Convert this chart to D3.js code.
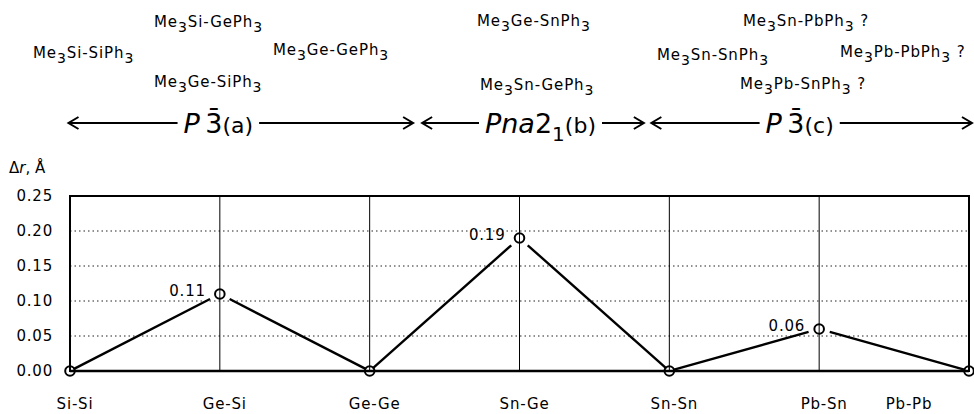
<!DOCTYPE html>
<html>
<head>
<meta charset="utf-8">
<script src="https://cdn.jsdelivr.net/npm/d3@7"></script>
<style>
  body { margin: 0; background: #fff; }
  svg { display: block; }
  text { font-family: "DejaVu Sans", sans-serif; fill: #000; }
</style>
</head>
<body>
<svg id="chart" width="974" height="414"></svg>
<script>
// bond type (Me3X-YPh3 -> X-Y) and the measured difference in bond length
const bonds = ["Si-Si", "Ge-Si", "Ge-Ge", "Sn-Ge", "Sn-Sn", "Pb-Sn", "Pb-Pb"];
const deltaR = [0, 0.11, 0, 0.19, 0, 0.06, 0];
const valueLabels = ["", "0.11", "", "0.19", "", "0.06", ""];
const yTicks = [0, 0.05, 0.10, 0.15, 0.20, 0.25];

// compounds written above the chart (digits become subscripts)
const compounds = [
  "Me3Si-SiPh3", "Me3Si-GePh3", "Me3Ge-GePh3", "Me3Ge-SiPh3",
  "Me3Ge-SnPh3", "Me3Sn-GePh3",
  "Me3Sn-PbPh3 ?", "Me3Sn-SnPh3", "Me3Pb-PbPh3 ?", "Me3Pb-SnPh3 ?"
];
// space groups, each spanning a range of the bond axis (in category units)
const spaceGroups = [
  [{t: "P", it: true}, {t: "\u20093\u0304"}, {t: "(a)", sm: true}],
  [{t: "Pna", it: true}, {t: "2"}, {t: "1", sub: true}, {t: "(b)", sm: true}],
  [{t: "P", it: true}, {t: "\u20093\u0304"}, {t: "(c)", sm: true}]
];
const groupSpan = [[-0.01, 2.29, 0.99], [2.35, 3.83, 3.14], [3.88, 6.02, 4.87]];

// layout for the compound names: [left x, baseline]
const compoundAt = [
  [33, 63], [154, 32], [273, 60], [154, 92],
  [477, 31], [480, 95],
  [743, 31], [657, 65], [840, 62], [740, 94]
];

const svg = d3.select("#chart");
const plotL = 70, plotR = 969, plotT = 196, plotB = 371;

const x = d3.scalePoint().domain(bonds).range([plotL, plotR]);
const xi = d3.scaleLinear().domain([0, bonds.length - 1]).range([plotL, plotR]);
const y = d3.scaleLinear().domain([0, 0.25]).range([plotB, plotT]);

// compound names
svg.append("g")
    .attr("font-size", 15)
    .attr("letter-spacing", 0.9)
  .selectAll("text")
  .data(compounds)
  .join("text")
    .attr("x", (d, i) => compoundAt[i][0])
    .attr("y", (d, i) => compoundAt[i][1])
    .each(function(d) {
      const t = d3.select(this);
      d.split(/(\d)/).filter(s => s.length).forEach(s => {
        if (/\d/.test(s)) {
          t.append("tspan").attr("font-size", 14).attr("dy", 5).text(s);
        } else {
          t.append("tspan").attr("dy", t.selectAll("tspan").size() ? -5 : 0).text(s);
        }
      });
    });

// space group arrows
const arrowY = 123;
const arrows = svg.append("g")
    .attr("stroke", "#000")
    .attr("stroke-width", 2)
    .attr("fill", "none");

spaceGroups.forEach((parts, i) => {
  const [a, b, c] = groupSpan[i];
  const t = svg.append("text")
      .attr("x", xi(c))
      .attr("y", 133)
      .attr("text-anchor", "middle");
  parts.forEach((p, k) => {
    const s = t.append("tspan").text(p.t);
    if (p.it) s.attr("font-style", "italic").attr("font-size", 27);
    else if (p.sm) s.attr("font-size", 22);
    else s.attr("font-size", 27);
    if (p.sub) s.attr("font-size", 20).attr("dy", 8);
    if (k > 0 && parts[k - 1].sub) s.attr("dy", -8);
  });
  const bb = t.node().getBBox();
  const x0 = xi(a), x1 = xi(b);
  const gl = bb.x - 6, gr = bb.x + bb.width + 6;
  arrows.append("path").attr("d", `M${x0},${arrowY}H${gl}M${x0 + 10},${arrowY - 6}L${x0},${arrowY}L${x0 + 10},${arrowY + 6}`);
  arrows.append("path").attr("d", `M${gr},${arrowY}H${x1}M${x1 - 10},${arrowY - 6}L${x1},${arrowY}L${x1 - 10},${arrowY + 6}`);
});

// y axis title
svg.append("text")
    .attr("x", 9)
    .attr("y", 173)
    .attr("font-size", 15)
    .call(t => {
      t.append("tspan").text("\u0394");
      t.append("tspan").attr("font-style", "italic").text("r");
      t.append("tspan").text(", \u00c5");
    });

// dotted gridlines
svg.append("g")
    .attr("stroke", "#222")
    .attr("stroke-width", 1)
    .attr("stroke-dasharray", "1.5,3")
  .selectAll("line")
  .data(yTicks.filter(v => v > 0 && v < 0.25))
  .join("line")
    .attr("x1", plotL).attr("x2", plotR)
    .attr("y1", d => y(d)).attr("y2", d => y(d));

// vertical lines at each bond
svg.append("g")
    .attr("stroke", "#000")
    .attr("stroke-width", 1)
  .selectAll("line")
  .data(bonds.slice(1, -1))
  .join("line")
    .attr("x1", d => x(d)).attr("x2", d => x(d))
    .attr("y1", plotT).attr("y2", plotB);

// frame
svg.append("rect")
    .attr("x", plotL).attr("y", plotT)
    .attr("width", plotR - plotL).attr("height", plotB - plotT)
    .attr("fill", "none")
    .attr("stroke", "#000")
    .attr("stroke-width", 2);
svg.append("line")
    .attr("x1", plotL).attr("x2", plotR)
    .attr("y1", plotB).attr("y2", plotB)
    .attr("stroke", "#000")
    .attr("stroke-width", 2.6);

// y axis tick labels
svg.append("g")
    .attr("transform", `translate(${plotL},0)`)
    .call(d3.axisLeft(y).tickValues(yTicks).tickSize(0).tickPadding(17).tickFormat(d3.format(".2f")))
    .call(g => g.select(".domain").remove())
    .call(g => g.selectAll("text")
        .attr("font-family", "DejaVu Sans, sans-serif")
        .attr("font-size", 15)
        .attr("letter-spacing", 0.8)
        .attr("fill", "#000"));

// bond labels
svg.append("g")
    .attr("font-size", 15)
    .attr("letter-spacing", 0.8)
    .attr("text-anchor", "middle")
  .selectAll("text")
  .data(bonds)
  .join("text")
    .attr("x", (d, i) => i === bonds.length - 1 ? x(d) - 60 : x(d) + 5)
    .attr("y", 409)
    .text(d => d);

// line segments, stopping short of the markers
const pts = bonds.map((b, i) => [x(b), y(deltaR[i]), deltaR[i]]);
const seg = svg.append("g")
    .attr("stroke", "#000")
    .attr("stroke-width", 2.4)
    .attr("fill", "none");
d3.pairs(pts).forEach(([p, q]) => {
  const dx = q[0] - p[0], dy = q[1] - p[1], len = Math.hypot(dx, dy);
  const gp = p[2] > 0 ? 11 : 4, gq = q[2] > 0 ? 11 : 4;
  seg.append("line")
      .attr("x1", p[0] + dx * gp / len).attr("y1", p[1] + dy * gp / len)
      .attr("x2", q[0] - dx * gq / len).attr("y2", q[1] - dy * gq / len);
});

// markers
svg.append("g")
    .attr("fill", "none")
    .attr("stroke", "#000")
    .attr("stroke-width", 2)
  .selectAll("circle")
  .data(deltaR)
  .join("circle")
    .attr("cx", (d, i) => x(bonds[i]))
    .attr("cy", d => y(d))
    .attr("r", 4.8);

// value labels
svg.append("g")
    .attr("font-size", 15)
    .attr("letter-spacing", 0.8)
    .attr("text-anchor", "end")
  .selectAll("text")
  .data(deltaR)
  .join("text")
    .attr("x", (d, i) => x(bonds[i]) - 14)
    .attr("y", d => y(d) + 2)
    .text((d, i) => valueLabels[i]);
</script>
</body>
</html>
